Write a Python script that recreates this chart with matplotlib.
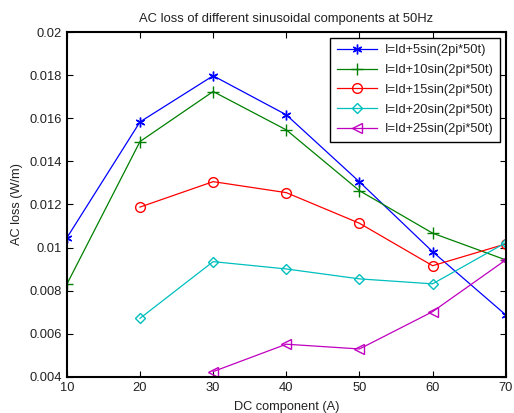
import matplotlib
matplotlib.use("Agg")
import matplotlib.pyplot as plt

plt.rcParams['font.family'] = ['Liberation Sans', 'DejaVu Sans']

# DC component (A)
dc = [10, 20, 30, 40, 50, 60, 70]

# AC loss (W/m) for each sinusoidal amplitude
loss_5 = [0.01045, 0.01583, 0.01797, 0.01616, 0.01305, 0.00981, 0.00688]
loss_10 = [0.0083, 0.01492, 0.01724, 0.01546, 0.01264, 0.01067, 0.00943]
loss_15 = [0.01188, 0.01306, 0.01255, 0.01113, 0.00916, 0.01017]
loss_20 = [0.00672, 0.00935, 0.00901, 0.00855, 0.00832, 0.01023]
loss_25 = [0.00425, 0.00552, 0.0053, 0.00703, 0.00943]

labels = ['I=Id+5sin(2pi*50t)', 'I=Id+10sin(2pi*50t)', 'I=Id+15sin(2pi*50t)',
          'I=Id+20sin(2pi*50t)', 'I=Id+25sin(2pi*50t)']
yticks = [0.004, 0.006, 0.008, 0.01, 0.012, 0.014, 0.016, 0.018, 0.02]
ytick_labels = ['0.004', '0.006', '0.008', '0.01', '0.012', '0.014', '0.016', '0.018', '0.02']

fig = plt.figure(figsize=(5.14, 4.13), dpi=100)
ax = fig.add_axes([0.130, 0.0872, 0.854, 0.8353])

ms = 7
txt = '#222222'
ax.plot(dc, loss_5, color=(0, 0, 1), marker=(6, 2, 0), ms=ms, lw=0.9, label=labels[0])
ax.plot(dc, loss_10, color=(0, 0.5, 0), marker='+', ms=ms + 1, lw=0.9, label=labels[1])
ax.plot(dc[1:], loss_15, color=(1, 0, 0), marker='o', mfc='none', ms=ms, lw=0.9, label=labels[2])
ax.plot(dc[1:], loss_20, color=(0, 0.75, 0.75), marker='D', mfc='none', ms=ms - 1.5, lw=0.9, label=labels[3])
ax.plot(dc[2:], loss_25, color=(0.75, 0, 0.75), marker='<', mfc='none', ms=ms, lw=0.9, label=labels[4])

ax.set_xlim(10, 70)
ax.set_ylim(0.004, 0.02)
ax.set_xticks(dc)
ax.set_yticks(yticks)
ax.set_yticklabels(ytick_labels)
ax.tick_params(direction='in', top=True, right=True, labelsize=9.3, length=4, width=0.8,
               labelcolor=txt)
for s in ax.spines.values():
    s.set_linewidth(1.5)

ax.set_title('AC loss of different sinusoidal components at 50Hz', fontsize=9.4, pad=7, color=txt)
ax.set_xlabel('DC component (A)', fontsize=9.2, labelpad=5, color=txt)
ax.set_ylabel('AC loss (W/m)', fontsize=9.2, labelpad=5, color=txt)

leg = ax.legend(loc='upper right', fontsize=9.3, fancybox=False, framealpha=1,
                edgecolor='black', borderaxespad=0.45, handlelength=3.1,
                labelspacing=0.6, borderpad=0.5, handletextpad=0.6)
leg.get_frame().set_linewidth(1.0)
for t in leg.get_texts():
    t.set_color(txt)

fig.savefig('out.png', dpi=100)
